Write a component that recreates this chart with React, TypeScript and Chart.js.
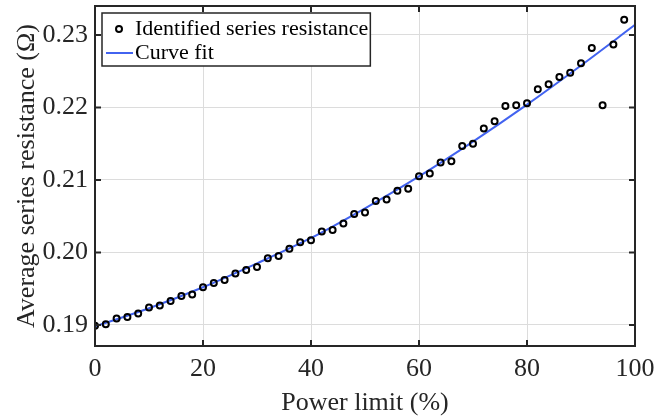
import React, { useEffect, useRef } from "react";
import { Chart, registerables } from "chart.js";

Chart.register(...registerables);

const powerLimit = [0, 2, 4, 6, 8, 10, 12, 14, 16, 18, 20, 22, 24, 26, 28, 30, 32, 34, 36, 38, 40, 42, 44, 46, 48, 50, 52, 54, 56, 58, 60, 62, 64, 66, 68, 70, 72, 74, 76, 78, 80, 82, 84, 86, 88, 90, 92, 94, 96, 98];
const resistance = [0.1899, 0.1901, 0.1909, 0.1911, 0.1916, 0.1924, 0.1927, 0.1933, 0.1940, 0.1942, 0.1952, 0.1958, 0.1962, 0.1971, 0.1976, 0.1980, 0.1992, 0.1995, 0.2005, 0.2014, 0.2017, 0.2029, 0.2031, 0.2040, 0.2053, 0.2055, 0.2071, 0.2073, 0.2085, 0.2088, 0.2105, 0.2109, 0.2124, 0.2126, 0.2147, 0.2150, 0.2171, 0.2181, 0.2202, 0.2203, 0.2206, 0.2225, 0.2232, 0.2242, 0.2248, 0.2261, 0.2282, 0.2203, 0.2287, 0.2321];
const fitX = [0, 10, 20, 30, 40, 50, 60, 70, 80, 90, 100];
const fitY = [0.1898, 0.1923, 0.1952, 0.1985, 0.2020, 0.2061, 0.2105, 0.2153, 0.2204, 0.2258, 0.2314];
const xTicks = [0, 20, 40, 60, 80, 100];
const yTicks = [0.19, 0.2, 0.21, 0.22, 0.23];
const seriesLabels = ["Identified series resistance", "Curve fit"];
const xTitle = "Power limit (%)";
const yTitle = "Average series resistance (Ω)";

const FONT = "'Liberation Serif', 'DejaVu Serif', serif";
const INK = "#262626";
const BLUE = "#4263f0";

const framePlugin = {
  id: "frame",
  afterDatasetsDraw(chart: any) {
    const { ctx, chartArea: a, scales } = chart;
    ctx.save();
    ctx.strokeStyle = INK;
    ctx.lineWidth = 2;
    const tl = 6;
    ctx.beginPath();
    for (const v of xTicks) {
      const px = scales.x.getPixelForValue(v);
      ctx.moveTo(px, a.bottom);
      ctx.lineTo(px, a.bottom - tl);
      ctx.moveTo(px, a.top);
      ctx.lineTo(px, a.top + tl);
    }
    for (const v of yTicks) {
      const py = scales.y.getPixelForValue(v);
      ctx.moveTo(a.left, py);
      ctx.lineTo(a.left + tl, py);
      ctx.moveTo(a.right, py);
      ctx.lineTo(a.right - tl, py);
    }
    ctx.stroke();
    ctx.strokeRect(a.left, a.top, a.right - a.left, a.bottom - a.top);

    // legend
    const bx = a.left + 7;
    const by = a.top + 7;
    ctx.font = `22px ${FONT}`;
    const tw = Math.max(...seriesLabels.map((s) => ctx.measureText(s).width));
    const bw = 33 + tw + 2;
    const bh = 53;
    ctx.fillStyle = "#ffffff";
    ctx.fillRect(bx, by, bw, bh);
    ctx.lineWidth = 1.5;
    ctx.strokeStyle = INK;
    ctx.strokeRect(bx, by, bw, bh);
    const r1 = by + 16;
    const r2 = by + 40;
    ctx.beginPath();
    ctx.lineWidth = 2;
    ctx.strokeStyle = "#000";
    ctx.arc(bx + 17, r1, 3, 0, Math.PI * 2);
    ctx.stroke();
    ctx.beginPath();
    ctx.strokeStyle = BLUE;
    ctx.moveTo(bx + 4, r2);
    ctx.lineTo(bx + 31, r2);
    ctx.stroke();
    ctx.fillStyle = "#000";
    ctx.textBaseline = "middle";
    ctx.textAlign = "left";
    ctx.fillText(seriesLabels[0], bx + 33, r1);
    ctx.fillText(seriesLabels[1], bx + 33, r2);
    ctx.restore();
  },
};

export default function App() {
  const ref = useRef<HTMLCanvasElement | null>(null);
  useEffect(() => {
    document.body.style.margin = "0";
    const canvas = ref.current!;
    const chart = new Chart(canvas, {
      type: "scatter",
      data: {
        datasets: [
          {
            label: seriesLabels[0],
            data: powerLimit.map((x, i) => ({ x, y: resistance[i] })),
            pointStyle: "circle",
            pointRadius: 3,
            pointBorderWidth: 2,
            pointBorderColor: "#000",
            pointBackgroundColor: "rgba(0,0,0,0)",
            showLine: false,
            order: 1,
          },
          {
            label: seriesLabels[1],
            data: fitX.map((x, i) => ({ x, y: fitY[i] })),
            showLine: true,
            borderColor: BLUE,
            borderWidth: 2,
            pointRadius: 0,
            cubicInterpolationMode: "monotone",
            order: 2,
          } as any,
        ],
      },
      options: {
        animation: false,
        responsive: false,
        devicePixelRatio: 1,
        layout: { padding: { top: 6, right: 20, left: 0, bottom: 0 } },
        plugins: { legend: { display: false }, tooltip: { enabled: false } },
        scales: {
          x: {
            type: "linear",
            min: 0,
            max: 100,
            afterFit: (s: any) => { s.height = 73; s.paddingLeft = 0; s.paddingRight = 0; },
            afterBuildTicks: (s: any) => { s.ticks = xTicks.map((v) => ({ value: v })); },
            grid: { color: "#dcdcdc", lineWidth: 1, drawTicks: false },
            border: { display: false },
            ticks: { color: INK, font: { family: FONT, size: 26 }, padding: 8, maxRotation: 0 },
            title: { display: true, text: xTitle, color: INK, font: { family: FONT, size: 26 }, padding: { top: 0, bottom: 0 } },
          },
          y: {
            type: "linear",
            min: 0.1871,
            max: 0.234,
            afterFit: (s: any) => { s.width = 95; s.paddingTop = 0; s.paddingBottom = 0; },
            afterBuildTicks: (s: any) => { s.ticks = yTicks.map((v) => ({ value: v })); },
            grid: { color: "#dcdcdc", lineWidth: 1, drawTicks: false },
            border: { display: false },
            ticks: {
              color: INK,
              font: { family: FONT, size: 26 },
              padding: 7,
              callback: (v: any) => Number(v).toFixed(2),
            },
            title: { display: true, text: yTitle, color: INK, font: { family: FONT, size: 26 }, padding: { top: 12, bottom: 0 } },
          },
        },
      },
      plugins: [framePlugin],
    });
    return () => chart.destroy();
  }, []);
  return <canvas ref={ref} width={655} height={419} style={{ display: "block" }} />;
}
